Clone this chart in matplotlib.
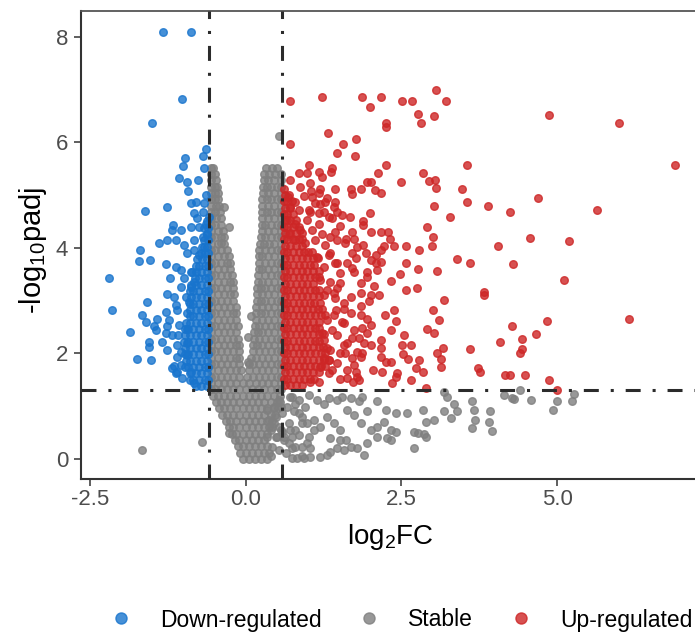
import matplotlib
matplotlib.use("Agg")
import matplotlib.pyplot as plt
from matplotlib.lines import Line2D

plt.rcParams['font.family'] = ['Liberation Sans', 'DejaVu Sans']
plt.rcParams['mathtext.fontset'] = 'custom'
plt.rcParams['mathtext.rm'] = 'Liberation Sans'
plt.rcParams['mathtext.it'] = 'Liberation Sans'
plt.rcParams['mathtext.default'] = 'regular'

# ---------------- data (log2FC, -log10 padj) ----------------
categories = ['Down-regulated', 'Stable', 'Up-regulated']
fc_cut = 0.585
p_cut = 1.301
x_ticks = [-2.5, 0.0, 2.5, 5.0]
x_tick_labels = ['-2.5', '0.0', '2.5', '5.0']
y_ticks = [0, 2, 4, 6, 8]

# dense rows of stable genes: (y, [x ...])
stable_rows = [
    (0.00, [-0.05, 0.05, 0.15, 0.25, 0.35]),
    (0.12, [-0.09, 0.00, 0.10, 0.20, 0.30, 0.38]),
    (0.24, [-0.12, -0.05, 0.05, 0.15, 0.25, 0.34]),
    (0.36, [-0.17, -0.10, 0.00, 0.10, 0.20, 0.30]),
    (0.48, [-0.22, -0.15, -0.05, 0.05, 0.15, 0.25, 0.34]),
    (0.60, [-0.27, -0.20, -0.10, 0.00, 0.10, 0.20, 0.30, 0.38]),
    (0.72, [-0.32, -0.25, -0.15, -0.05, 0.05, 0.15, 0.25, 0.35, 0.42]),
    (0.84, [-0.38, -0.30, -0.20, -0.10, 0.00, 0.10, 0.20, 0.30, 0.40, 0.47]),
    (0.96, [-0.43, -0.35, -0.25, -0.15, -0.05, 0.05, 0.15, 0.25, 0.35, 0.45, 0.52]),
    (1.08, [-0.48, -0.40, -0.30, -0.20, -0.10, 0.00, 0.10, 0.20, 0.30, 0.40, 0.50, 0.55]),
    (1.20, [-0.53, -0.45, -0.35, -0.25, -0.15, -0.05, 0.05, 0.15, 0.25, 0.35, 0.45, 0.55]),
    (1.32, [-0.56, -0.50, -0.40, -0.30, -0.20, -0.10, 0.00, 0.10, 0.20, 0.30, 0.40, 0.50, 0.56]),
    (1.44, [-0.55, -0.45, -0.35, -0.25, -0.15, -0.05, 0.06, 0.16, 0.26, 0.36, 0.46, 0.56]),
    (1.56, [-0.56, -0.50, -0.40, -0.30, -0.20, -0.10, 0.02, 0.11, 0.21, 0.31, 0.41, 0.51, 0.57]),
    (1.68, [-0.55, -0.45, -0.35, -0.25, -0.15, -0.08, 0.05, 0.16, 0.26, 0.36, 0.46, 0.56]),
    (1.80, [-0.56, -0.50, -0.40, -0.30, -0.20, -0.10, 0.05, 0.11, 0.21, 0.31, 0.41, 0.51, 0.57]),
    (1.92, [-0.55, -0.45, -0.35, -0.25, -0.15, -0.10, 0.08, 0.16, 0.26, 0.36, 0.46, 0.56]),
    (2.04, [-0.56, -0.50, -0.40, -0.30, -0.20, -0.11, 0.11, 0.21, 0.31, 0.41, 0.51, 0.57]),
    (2.16, [-0.55, -0.45, -0.35, -0.25, -0.15, -0.11, 0.12, 0.19, 0.26, 0.36, 0.46, 0.56]),
    (2.28, [-0.56, -0.50, -0.40, -0.30, -0.20, -0.12, 0.13, 0.21, 0.31, 0.41, 0.51, 0.57]),
    (2.40, [-0.55, -0.45, -0.35, -0.25, -0.15, 0.14, 0.20, 0.26, 0.36, 0.46, 0.56]),
    (2.52, [-0.56, -0.50, -0.40, -0.30, -0.20, -0.13, 0.15, 0.21, 0.31, 0.41, 0.51, 0.57]),
    (2.64, [-0.55, -0.45, -0.35, -0.25, -0.15, 0.16, 0.26, 0.36, 0.46, 0.56]),
    (2.76, [-0.56, -0.50, -0.40, -0.30, -0.20, -0.15, 0.17, 0.24, 0.31, 0.41, 0.51, 0.57]),
    (2.88, [-0.55, -0.45, -0.35, -0.25, -0.16, 0.17, 0.26, 0.36, 0.46, 0.56]),
    (3.00, [-0.56, -0.50, -0.40, -0.30, -0.20, 0.18, 0.24, 0.31, 0.41, 0.51, 0.57]),
    (3.12, [-0.55, -0.45, -0.35, -0.25, -0.19, 0.19, 0.26, 0.36, 0.46, 0.56]),
    (3.24, [-0.56, -0.50, -0.40, -0.30, -0.21, 0.19, 0.25, 0.31, 0.41, 0.51, 0.57]),
    (3.36, [-0.55, -0.45, -0.35, -0.25, -0.21, 0.20, 0.26, 0.36, 0.46, 0.56]),
    (3.48, [-0.56, -0.50, -0.40, -0.30, -0.22, 0.20, 0.31, 0.41, 0.51, 0.57]),
    (3.60, [-0.55, -0.45, -0.35, -0.25, 0.21, 0.26, 0.36, 0.46, 0.56]),
    (3.72, [-0.56, -0.50, -0.40, -0.30, -0.25, 0.21, 0.31, 0.41, 0.51, 0.57]),
    (3.84, [-0.55, -0.45, -0.35, -0.27, 0.21, 0.26, 0.36, 0.46, 0.56]),
    (3.96, [-0.56, -0.50, -0.40, -0.30, 0.22, 0.31, 0.41, 0.51, 0.57]),
    (4.08, [-0.55, -0.45, -0.35, 0.23, 0.30, 0.38, 0.46, 0.56]),
    (4.20, [-0.56, -0.50, -0.40, -0.34, 0.25, 0.31, 0.41, 0.51, 0.57]),
    (4.32, [-0.55, -0.45, -0.36, 0.26, 0.36, 0.46, 0.56]),
    (4.44, [-0.56, -0.50, -0.40, 0.26, 0.31, 0.41, 0.51, 0.57]),
    (4.56, [-0.55, -0.47, -0.40, 0.27, 0.36, 0.46, 0.56]),
    (4.68, [-0.56, -0.50, -0.42, 0.27, 0.34, 0.41, 0.51, 0.57]),
    (4.80, [-0.55, -0.47, -0.43, 0.27, 0.36, 0.46, 0.56]),
    (4.92, [-0.56, -0.50, -0.44, 0.27, 0.34, 0.41, 0.51, 0.57]),
    (5.04, [-0.55, -0.49, -0.45, 0.28, 0.36, 0.46, 0.56]),
    (5.16, [-0.56, -0.50, -0.46, 0.28, 0.34, 0.41, 0.51, 0.57]),
    (5.28, [-0.55, -0.48, 0.29, 0.36, 0.46, 0.56]),
    (5.40, [-0.56, -0.50, 0.30, 0.38, 0.47, 0.56]),
    (5.52, [-0.55, -0.52, 0.33, 0.42, 0.50]),
]

# scattered stable genes: (x, y)
stable_pts = [
    (0.53, 6.12), (-0.27, 4.40), (-0.34, 4.78), (-0.40, 4.09), (0.08, 2.70), (0.03, 2.32), (0.03, 1.84),
    (-1.66, 0.17), (-0.70, 0.33), (-0.27, 0.49),
    (0.75, 1.18), (0.80, 1.05), (0.86, 0.87), (0.96, 0.99), (0.91, 0.68), (0.80, 0.55), (0.75, 0.42),
    (0.80, 0.23), (0.91, 0.05), (1.04, 0.20), (0.53, 0.61), (0.48, 0.42), (0.43, 0.23), (0.64, 0.11),
    (0.40, 0.55), (0.37, 0.74), (0.45, 0.99), (0.53, 1.12), (0.59, 0.87), (0.69, 0.68), (0.61, 0.42),
    (0.75, 0.01), (0.35, 0.93), (0.48, 0.80), (0.56, 0.99), (0.43, 0.61), (0.35, 0.42), (0.53, 0.17),
    (0.40, 0.05), (0.69, 0.30), (0.59, 0.52),
    (0.72, 1.18), (0.86, 1.12), (1.02, 1.21), (1.15, 1.12), (1.26, 1.05), (1.34, 1.15), (1.47, 1.12),
    (1.55, 1.18), (1.69, 1.15), (1.82, 1.09), (1.87, 1.18), (2.11, 1.09), (2.25, 0.93), (2.41, 0.87),
    (2.59, 0.88), (2.84, 0.93), (2.89, 0.71), (3.02, 0.74), (3.18, 1.27), (3.24, 1.18), (3.34, 1.05),
    (3.40, 0.90), (3.18, 0.90), (3.29, 0.77), (3.91, 0.71),
    (0.67, 0.99), (0.78, 0.90), (0.91, 0.80), (0.99, 0.68), (1.10, 0.74), (1.20, 0.61), (1.31, 0.80),
    (1.42, 0.68), (1.52, 0.55), (1.63, 0.93), (1.74, 0.83), (1.85, 0.68), (1.95, 0.90), (2.01, 0.55),
    (2.11, 0.61), (2.22, 0.71), (2.33, 0.55), (2.41, 0.52), (2.27, 0.39), (2.11, 0.42), (1.95, 0.30),
    (1.79, 0.20), (1.69, 0.23), (1.58, 0.17), (1.47, 0.20), (1.36, 0.14), (1.31, 0.08), (1.20, 0.04),
    (1.04, 0.04), (0.94, 0.01), (0.83, 0.01), (0.75, 0.20), (0.61, 0.36), (0.51, 0.42), (0.56, 0.55),
    (0.45, 0.68), (2.70, 0.52), (2.76, 0.49), (2.86, 0.47), (2.89, 0.42), (2.70, 0.20), (2.33, 0.36),
    (1.61, 0.36), (1.52, 0.36), (1.36, 0.39), (0.99, 0.30), (0.91, 0.23), (1.90, 0.08), (1.10, 0.55),
    (1.02, 0.42), (0.86, 0.45), (0.72, 0.55),
    (3.64, 1.09), (3.67, 0.93), (3.69, 0.74), (3.64, 0.58), (3.93, 0.91), (3.96, 0.53), (4.15, 1.21),
    (4.28, 1.15), (4.31, 1.13), (4.41, 1.31), (4.58, 1.12), (4.94, 0.93), (5.00, 1.09), (5.24, 1.10),
    (5.27, 1.23),
]

# dense rows of down-regulated genes: (y, [x ...])
down_rows = [
    (1.38, [-0.62, -0.71, -0.80]),
    (1.50, [-0.61, -0.66, -0.75, -0.84, -0.89]),
    (1.62, [-0.62, -0.71, -0.80, -0.89]),
    (1.74, [-0.61, -0.66, -0.75, -0.84, -0.93, -0.97]),
    (1.86, [-0.62, -0.71, -0.80, -0.89, -0.96]),
    (1.98, [-0.61, -0.66, -0.75, -0.84, -0.93, -0.98]),
    (2.10, [-0.62, -0.71, -0.80, -0.89, -0.97]),
    (2.22, [-0.61, -0.66, -0.75, -0.84, -0.93, -0.99]),
    (2.34, [-0.62, -0.71, -0.80, -0.89, -0.98]),
    (2.46, [-0.61, -0.66, -0.75, -0.84, -0.93, -0.97]),
    (2.58, [-0.62, -0.71, -0.80, -0.89, -0.96]),
    (2.70, [-0.61, -0.66, -0.75, -0.84, -0.90]),
    (2.82, [-0.62, -0.71, -0.80, -0.89]),
    (2.94, [-0.61, -0.66, -0.75, -0.84, -0.90]),
    (3.06, [-0.62, -0.71, -0.80, -0.88]),
    (3.18, [-0.61, -0.66, -0.75, -0.84, -0.89]),
    (3.30, [-0.62, -0.71, -0.80, -0.87]),
    (3.42, [-0.61, -0.66, -0.75, -0.81]),
    (3.54, [-0.62, -0.71, -0.80, -0.86]),
    (3.66, [-0.61, -0.66, -0.75, -0.80]),
    (3.78, [-0.62, -0.70, -0.78]),
    (3.90, [-0.61, -0.66, -0.72]),
    (4.02, [-0.62, -0.70]),
    (4.14, [-0.61, -0.67]),
    (4.26, [-0.62]),
    (4.38, [-0.61, -0.67]),
    (4.50, [-0.62]),
]

down_pts = [
    (-1.32, 8.09), (-0.87, 8.09), (-1.03, 6.81), (-1.51, 6.37), (-0.64, 5.88), (-0.97, 5.71), (-0.68, 5.74),
    (-1.01, 5.55), (-0.67, 5.51), (-1.07, 5.32), (-0.94, 5.24), (-0.76, 5.28), (-0.92, 5.08), (-0.64, 5.00),
    (-1.62, 4.70), (-1.27, 4.78), (-0.88, 4.84), (-0.79, 4.87), (-0.67, 4.84), (-0.83, 4.65), (-0.69, 4.68),
    (-0.78, 4.56), (-1.16, 4.43), (-1.19, 4.34), (-1.04, 4.34), (-0.88, 4.40), (-0.75, 4.40), (-0.64, 4.46),
    (-1.39, 4.10), (-1.26, 4.15), (-1.12, 4.15), (-0.99, 4.05), (-0.83, 4.15), (-0.69, 4.21), (-0.67, 4.02),
    (-0.94, 3.90), (-0.83, 3.96), (-0.75, 3.86), (-1.69, 3.96), (-1.53, 3.77), (-0.59, 4.59), (-0.62, 4.27),
    (-1.28, 3.69), (-1.12, 3.64), (-1.04, 3.58), (-0.88, 3.55), (-1.21, 3.43), (-0.99, 3.42), (-0.83, 3.36),
    (-1.04, 3.26), (-0.88, 3.26), (-1.26, 3.12), (-1.15, 3.07), (-0.96, 3.07), (-1.58, 2.98), (-1.12, 2.92),
    (-0.91, 2.98), (-1.28, 2.79), (-1.10, 2.82), (-0.94, 2.76), (-1.66, 2.73), (-1.42, 2.66), (-1.23, 2.63),
    (-1.60, 2.60), (-1.47, 2.51), (-1.26, 2.51), (-1.07, 2.54), (-0.94, 2.47), (-1.28, 2.38), (-1.18, 2.35),
    (-1.09, 2.35), (-1.55, 2.22), (-1.34, 2.22), (-1.10, 2.16), (-0.94, 2.19), (-1.55, 2.13), (-1.26, 2.06),
    (-1.04, 2.03), (-1.52, 1.88), (-1.10, 1.94), (-0.94, 1.97), (-1.18, 1.72), (-1.04, 1.78), (-1.12, 1.62),
    (-0.88, 1.65), (-0.83, 1.43), (-1.02, 1.53), (-2.19, 3.43), (-2.14, 2.83), (-1.86, 2.41), (-1.75, 1.89),
    (-1.71, 3.75), (-1.44, 2.44), (-1.15, 1.77), (-1.10, 1.65),
]

# dense rows of up-regulated genes: (y, [x ...])
up_rows = [
    (1.40, [0.63, 0.72, 0.81, 0.90]),
    (1.52, [0.62, 0.67, 0.76, 0.85, 0.94, 1.03, 1.09]),
    (1.64, [0.63, 0.72, 0.81, 0.90, 0.99, 1.08, 1.17]),
    (1.76, [0.62, 0.67, 0.76, 0.85, 0.94, 1.03, 1.12, 1.21, 1.27]),
    (1.88, [0.63, 0.72, 0.81, 0.90, 0.99, 1.08, 1.17, 1.26, 1.34]),
    (2.00, [0.62, 0.67, 0.76, 0.85, 0.94, 1.03, 1.12, 1.21, 1.27]),
    (2.12, [0.63, 0.72, 0.81, 0.90, 0.99, 1.08, 1.17, 1.25]),
    (2.24, [0.62, 0.67, 0.76, 0.85, 0.94, 1.03, 1.12, 1.18]),
    (2.36, [0.63, 0.72, 0.81, 0.90, 0.99, 1.08, 1.17, 1.26]),
    (2.48, [0.62, 0.67, 0.76, 0.85, 0.94, 1.03, 1.12, 1.18]),
    (2.60, [0.63, 0.72, 0.81, 0.90, 0.99, 1.08, 1.17]),
    (2.72, [0.62, 0.67, 0.76, 0.85, 0.94, 1.03, 1.12, 1.21, 1.27]),
    (2.84, [0.63, 0.72, 0.81, 0.90, 0.99, 1.08, 1.16]),
    (2.96, [0.62, 0.67, 0.76, 0.85, 0.94, 1.03, 1.09]),
    (3.08, [0.63, 0.72, 0.81, 0.90, 0.99, 1.08, 1.17]),
    (3.20, [0.62, 0.67, 0.76, 0.85, 0.94, 1.03, 1.12, 1.18]),
    (3.32, [0.63, 0.72, 0.81, 0.90, 0.99, 1.08]),
    (3.44, [0.62, 0.67, 0.76, 0.85, 0.94, 1.03, 1.12, 1.18]),
    (3.56, [0.63, 0.72, 0.81, 0.90, 0.99, 1.08, 1.17]),
    (3.68, [0.62, 0.67, 0.76, 0.85, 0.94, 1.03, 1.09]),
    (3.80, [0.63, 0.72, 0.81, 0.90, 0.99, 1.08, 1.16]),
    (3.92, [0.62, 0.67, 0.76, 0.85, 0.94, 1.00]),
    (4.04, [0.63, 0.72, 0.81, 0.90]),
    (4.16, [0.62, 0.67, 0.76, 0.85, 0.90]),
    (4.28, [0.63, 0.72, 0.81, 0.90]),
    (4.40, [0.62, 0.67, 0.76, 0.85]),
    (4.52, [0.63, 0.72, 0.81]),
    (4.64, [0.62, 0.67, 0.76]),
    (4.76, [0.63, 0.72]),
    (4.88, [0.62, 0.67, 0.74]),
    (5.00, [0.63, 0.70]),
    (5.12, [0.62]),
]

up_pts = [
    (0.71, 6.79), (1.23, 6.86), (1.87, 6.86), (2.18, 6.86), (2.00, 6.66), (2.51, 6.79), (2.67, 6.79),
    (3.06, 6.98), (3.21, 6.79), (2.77, 6.53), (2.82, 6.37), (3.03, 6.50), (2.25, 6.37), (2.26, 6.28),
    (1.33, 6.17), (1.77, 6.07), (1.57, 5.96), (0.71, 5.96), (1.47, 5.79), (1.75, 5.74), (2.26, 5.56),
    (1.02, 5.56), (1.39, 5.52), (1.37, 5.43), (1.17, 5.43), (1.22, 5.35), (0.85, 5.41), (0.99, 5.41),
    (2.13, 5.41), (1.95, 5.24), (2.01, 5.25), (2.50, 5.25), (2.85, 5.41), (2.94, 5.27), (3.04, 5.28),
    (3.06, 5.13), (3.56, 5.57), (3.48, 5.11), (3.56, 4.86), (3.02, 4.79), (3.28, 4.58), (3.89, 4.80),
    (2.92, 4.39), (3.01, 4.21), (2.99, 4.03), (1.67, 4.58), (1.99, 4.65), (1.88, 4.51), (1.88, 4.43),
    (2.02, 4.29), (2.18, 4.29), (2.28, 4.29), (2.32, 4.16), (2.22, 4.03), (2.39, 4.03), (2.57, 4.03),
    (2.78, 3.96), (2.18, 5.04), (2.08, 5.10), (1.85, 5.11), (1.71, 5.01), (1.69, 5.11), (1.44, 5.11),
    (1.20, 5.11), (1.05, 5.08), (1.03, 5.22), (1.30, 4.94), (1.28, 4.86), (1.42, 4.78), (1.47, 4.67),
    (1.39, 4.56), (1.26, 4.68), (1.19, 4.83), (1.04, 4.68), (0.94, 4.98), (1.52, 4.41), (1.44, 4.29),
    (1.70, 4.29), (1.74, 4.16), (1.89, 4.05), (1.61, 4.16),
    (0.72, 5.28), (0.88, 5.16), (0.68, 4.97), (0.80, 4.87), (1.07, 4.97), (1.18, 5.03), (1.44, 4.87),
    (1.12, 4.84), (1.02, 4.72), (0.85, 4.72), (0.72, 4.78), (1.55, 4.62), (1.18, 4.65), (1.34, 4.59),
    (0.99, 4.53), (1.18, 4.46), (0.80, 4.46), (0.67, 4.53), (0.70, 4.27), (0.88, 4.34), (1.07, 4.34),
    (1.23, 4.27), (1.60, 4.09), (1.47, 4.15), (1.28, 4.05), (1.12, 4.15), (0.96, 4.09), (0.80, 4.15),
    (1.07, 3.93), (1.34, 3.86), (2.09, 3.86), (1.93, 3.90),
    (3.39, 3.78), (3.61, 3.71), (3.07, 3.57), (2.76, 3.59), (2.57, 3.71), (2.48, 3.50), (2.34, 3.37),
    (2.57, 3.20), (2.75, 3.23), (3.18, 3.01), (3.83, 3.16), (3.83, 3.11), (3.01, 2.83), (3.10, 2.63),
    (2.91, 2.46), (3.03, 2.38), (3.17, 2.10), (3.08, 2.01), (3.13, 1.89), (3.13, 1.75), (3.61, 2.08),
    (3.73, 1.72), (3.77, 1.64), (2.38, 2.83), (2.41, 2.62), (2.33, 2.44), (2.23, 2.73), (2.55, 2.35),
    (2.51, 2.16), (2.65, 2.16), (2.53, 1.99), (2.60, 1.89), (2.78, 1.88), (2.74, 1.72), (2.85, 1.65),
    (2.43, 1.62), (2.41, 1.56), (2.65, 1.50), (2.35, 1.43), (2.89, 1.34), (2.19, 1.64), (2.17, 1.94),
    (2.05, 1.69), (1.78, 1.56), (1.73, 1.46), (1.18, 1.45), (1.03, 1.46), (1.51, 1.51), (1.34, 1.62),
    (1.63, 1.69), (1.74, 1.78), (1.85, 1.94), (2.01, 2.16), (2.17, 2.25), (1.90, 2.19), (1.82, 2.29),
    (1.95, 2.38), (1.87, 2.49), (1.95, 2.66), (1.85, 2.90), (1.98, 3.00), (2.01, 3.11), (1.85, 3.14),
    (1.69, 3.07), (2.06, 3.28), (1.95, 3.45), (1.85, 3.34), (2.11, 3.58), (2.17, 3.74), (2.01, 3.77),
    (2.17, 3.95), (1.71, 3.90), (1.63, 3.71), (1.74, 3.55), (1.52, 3.53), (1.47, 3.71), (1.36, 3.90),
    (1.36, 4.21), (1.79, 4.02), (1.52, 3.33), (1.42, 3.14), (1.58, 2.95), (1.69, 2.76), (1.58, 2.57),
    (1.74, 2.44), (1.63, 2.19), (1.52, 2.00), (1.47, 1.81), (1.34, 1.87), (1.20, 1.75), (1.36, 2.06),
    (1.26, 2.25), (1.39, 2.44), (1.31, 2.63), (1.45, 2.82), (1.20, 2.95), (1.31, 3.20), (1.20, 3.39),
    (1.26, 3.64), (1.15, 3.83),
    (2.14, 3.11), (1.86, 2.73), (2.01, 2.54), (1.87, 2.00), (1.79, 2.03), (2.17, 2.10), (2.25, 1.84),
    (2.33, 1.84), (1.82, 1.50), (1.77, 1.65), (1.63, 1.53), (1.39, 1.69), (1.60, 2.00), (1.71, 1.91),
    (1.71, 2.29), (1.58, 2.16), (1.47, 2.35), (1.55, 2.60), (1.42, 2.73), (1.58, 2.85), (1.44, 3.04),
    (1.36, 3.36), (1.47, 3.23), (1.71, 3.61), (1.44, 3.71), (1.77, 3.80), (1.95, 3.55), (2.09, 3.71),
    (1.26, 3.11), (1.23, 2.85), (1.23, 2.38), (1.31, 2.10), (1.26, 1.91),
    (4.87, 6.515), (6.00, 6.37), (6.89, 5.56), (4.24, 4.68), (4.70, 4.94), (5.65, 4.72), (4.56, 4.19),
    (5.19, 4.13), (4.06, 4.03), (4.30, 3.69), (5.11, 3.39), (6.15, 2.66), (4.84, 2.61), (4.28, 2.52),
    (4.67, 2.37), (4.43, 2.27), (4.09, 2.22), (4.44, 2.08), (4.40, 2.00), (4.17, 1.60), (4.24, 1.60),
    (4.49, 1.60), (4.87, 1.50), (5.00, 1.31),
]

palette = {'Down-regulated': '#1874CD', 'Stable': '#7F7F7F', 'Up-regulated': '#CD2626'}


def collect(rows, pts):
    xs, ys = [], []
    for y, row in rows:
        for x in row:
            xs.append(x)
            ys.append(y)
    for x, y in pts:
        xs.append(x)
        ys.append(y)
    return xs, ys


series = {
    'Stable': collect(stable_rows, stable_pts),
    'Down-regulated': collect(down_rows, down_pts),
    'Up-regulated': collect(up_rows, up_pts),
}

# ---------------- figure ----------------
W, H = 695, 634
fig = plt.figure(figsize=(W / 100, H / 100), dpi=100)
ax_l, ax_r, ax_t, ax_b = 80.7, 697, 10.7, 479
ax = fig.add_axes([ax_l / W, (H - ax_b) / H, (ax_r - ax_l) / W, (ax_b - ax_t) / H])

for cat in ['Stable', 'Down-regulated', 'Up-regulated']:
    xs, ys = series[cat]
    ax.scatter(xs, ys, s=30, color=palette[cat], alpha=0.8, edgecolors=palette[cat],
               linewidths=1.0, zorder=2)

ls = (0, (4.9, 3.9, 1.0, 3.9))
for v in (-fc_cut, fc_cut):
    ax.axvline(v, color='#2b2b2b', lw=2.2, linestyle=ls, zorder=3, dash_capstyle='butt')
ax.axhline(p_cut, color='#2b2b2b', lw=2.2, linestyle=ls, zorder=3, dash_capstyle='butt')

ax.set_xlim(-2.649, 7.248)
ax.set_ylim(-0.379, 8.491)
ax.set_xticks(x_ticks)
ax.set_xticklabels(x_tick_labels)
ax.set_yticks(y_ticks)
ax.tick_params(axis='both', direction='out', length=5, width=1.1, color='#333333',
               labelsize=16, labelcolor='#4D4D4D')
ax.tick_params(axis='x', pad=2.5)
ax.tick_params(axis='y', pad=4)
for side in ('left', 'bottom'):
    ax.spines[side].set_color('#333333')
    ax.spines[side].set_linewidth(1.5)
for side in ('top', 'right'):
    ax.spines[side].set_color('#555555')
    ax.spines[side].set_linewidth(1.3)

fig.text(390 / W, 1 - 544 / H, 'log$_2$FC', ha='center', va='baseline', fontsize=20, color='black')
fig.text(33 / W, 1 - 250 / H, '-log$_{10}$padj', ha='center', va='center', rotation=90,
         fontsize=21, color='black')

handles = [Line2D([], [], linestyle='none', marker='o', markersize=8.0, alpha=0.8,
                  markerfacecolor=palette[c], markeredgecolor=palette[c], markeredgewidth=1.0)
           for c in categories]
fig.legend(handles, categories, loc='center', bbox_to_anchor=(401 / W, 1 - 620 / H), ncol=3,
           frameon=False, fontsize=16.5, handlelength=1.0, handletextpad=1.2, columnspacing=1.6,
           borderpad=0, borderaxespad=0)

fig.savefig('out.png', dpi=100)
